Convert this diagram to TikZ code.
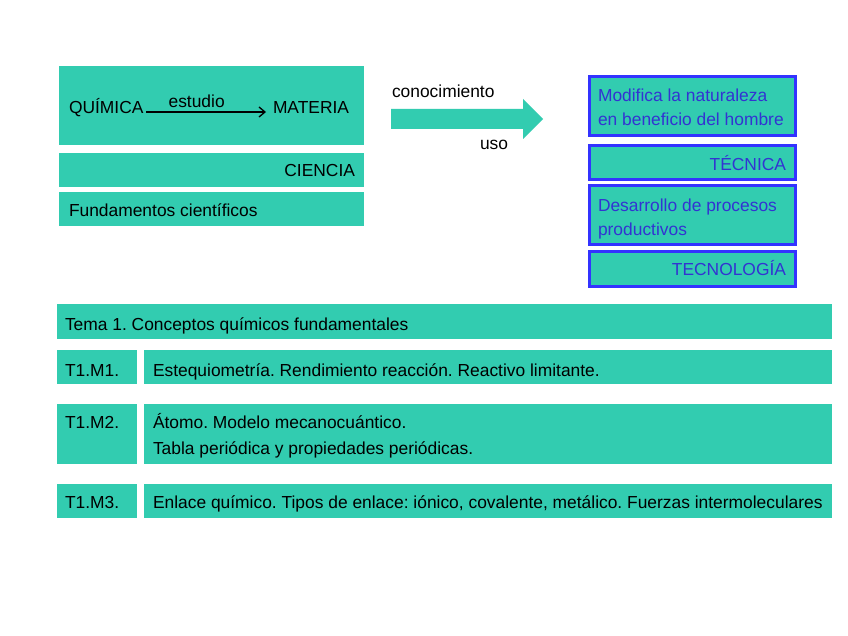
\documentclass[tikz,border=0pt]{standalone}
\usepackage{fontspec}
\setmainfont{Liberation Sans}
\usetikzlibrary{arrows.meta}
\definecolor{tealf}{RGB}{50,204,176}
\definecolor{bborder}{RGB}{51,51,255}
\definecolor{btext}{RGB}{51,51,210}
\tikzset{
  box/.style={fill=tealf, draw=none, anchor=north west, inner sep=0pt, outer sep=0pt},
  bbox/.style={fill=tealf, draw=bborder, line width=3pt, anchor=north west, inner sep=0pt, outer sep=0pt},
  txt/.style={inner sep=0pt, outer sep=0pt, font=\fontsize{17.4}{20}\selectfont},
  btxt/.style={txt, text=btext},
}
\begin{document}
\frenchspacing
\begin{tikzpicture}[x=1pt,y=-1pt]
\useasboundingbox[fill=white] (0,0) rectangle (848,636);
% top-left boxes
\node[box, minimum width=305pt, minimum height=79pt] (b1) at (59,66) {};
\node[box, minimum width=305pt, minimum height=34pt] (b2) at (59,153) {};
\node[box, minimum width=305pt, minimum height=34pt] (b3) at (59,192) {};
\node[txt, anchor=base west] (quim) at (69,114) {QUÍMICA};
\node[txt, anchor=base west] (mat) at (273,114) {MATERIA};
\draw[line width=1.3pt, -{Straight Barb[length=6pt,width=10pt]}] ([shift={(3,-2)}]quim.base east) -- node[txt, anchor=base, pos=0.42, yshift=4pt] (estudio) {estudio} ([shift={(-7,-2)}]mat.base west);
\node[txt, anchor=base east] (ciencia) at (355,177) {CIENCIA};
\node[txt, anchor=base west] (fund) at (69,217) {Fundamentos científicos};
% big arrow
\path[fill=tealf] (391,109) -- (523,109) -- (523,99) -- (543,119) -- (523,139) -- (523,129) -- (391,129) -- cycle;
\node[txt, anchor=base west] (conoc) at (392,98) {conocimiento};
\node[txt, anchor=base west] (uso) at (480,150) {uso};
% right boxes
\node[bbox, minimum width=206pt, minimum height=59pt] (r1) at (589.5,76.5) {};
\node[bbox, minimum width=206pt, minimum height=34pt] (r2) at (589.5,145.5) {};
\node[bbox, minimum width=206pt, minimum height=59pt] (r3) at (589.5,185.5) {};
\node[bbox, minimum width=206pt, minimum height=35pt] (r4) at (589.5,251.5) {};
\node[btxt, anchor=base west] (mod1) at (598,102) {Modifica la naturaleza};
\node[btxt, anchor=base west] (mod2) at (598,126) {en beneficio del hombre};
\node[btxt, anchor=base east] (tecnica) at (786,171) {TÉCNICA};
\node[btxt, anchor=base west] (des1) at (598,212) {Desarrollo de procesos};
\node[btxt, anchor=base west] (des2) at (598,236) {productivos};
\node[btxt, anchor=base east] (tecno) at (786,276) {TECNOLOGÍA};
% bottom
\node[box, minimum width=775pt, minimum height=35pt] (tema) at (57,304) {};
\node[txt, anchor=base west] (ttema) at (65,330) {Tema 1. Conceptos químicos fundamentales};
\node[box, minimum width=80pt, minimum height=34pt] (m1l) at (57,350) {};
\node[box, minimum width=688pt, minimum height=34pt] (m1r) at (144,350) {};
\node[txt, anchor=base west] (tm1) at (65,376) {T1.M1.};
\node[txt, anchor=base west] (dm1) at (153,376) {Estequiometría. Rendimiento reacción. Reactivo limitante.};
\node[box, minimum width=80pt, minimum height=60pt] (m2l) at (57,404) {};
\node[box, minimum width=688pt, minimum height=60pt] (m2r) at (144,404) {};
\node[txt, anchor=base west] (tm2) at (65,428) {T1.M2.};
\node[txt, anchor=base west] (dm2a) at (153,428) {Átomo. Modelo mecanocuántico.};
\node[txt, anchor=base west] (dm2b) at (153,454) {Tabla periódica y propiedades periódicas.};
\node[box, minimum width=80pt, minimum height=34pt] (m3l) at (57,484) {};
\node[box, minimum width=688pt, minimum height=34pt] (m3r) at (144,484) {};
\node[txt, anchor=base west] (tm3) at (65,508) {T1.M3.};
\node[txt, anchor=base west] (dm3) at (153,508) {Enlace químico. Tipos de enlace: iónico, covalente, metálico. Fuerzas intermoleculares};
\end{tikzpicture}
\end{document}
